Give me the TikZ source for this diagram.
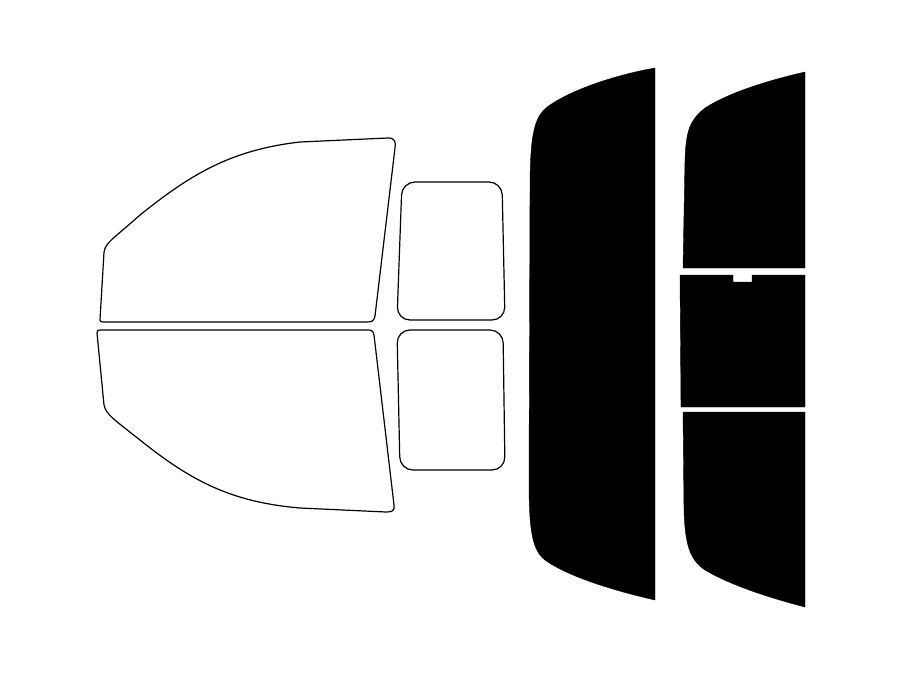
\documentclass[tikz,border=0pt]{standalone}
\begin{document}
\begin{tikzpicture}[x=1pt,y=-1pt,line join=round]
\tikzset{win/.style={draw=black,line width=1.2pt,fill=white},tint/.style={fill=black,draw=black}}
\useasboundingbox (0,0) rectangle (900,675);
% front door upper
\draw[win] (100,320) -- (104,252) .. controls (106,242) and (112,240) .. (140,215) .. controls (190,175) and (230,150) .. (300,142) -- (388,138) .. controls (395,138) and (396,142) .. (395,148) -- (375,316) .. controls (374,321) and (372,322) .. (367,322) -- (104,322) .. controls (100,322) and (100,321) .. (100,320);
% front door lower
\draw[win] (97,333) .. controls (97,330) and (98,330) .. (101,330) -- (368,330) .. controls (372,330) and (373,331) .. (374,335) -- (394,505) .. controls (395,511) and (392,512) .. (386,512) -- (300,508) .. controls (230,502) and (190,480) .. (140,440) .. controls (112,418) and (106,414) .. (104,405) -- (97,333);
% small windows
\draw[win,rounded corners=13pt] (450,182) -- (502,182) -- (505,320) -- (397,320) -- (402,182) -- (450,182);
\draw[win,rounded corners=13pt] (450,330) -- (503,330) -- (505,470) -- (400,470) -- (397,330) -- (450,330);
% back seat big black
\fill[tint] (655,68) -- (655,600) .. controls (620,592) and (570,578) .. (545,560) .. controls (532,550) and (529,530) .. (529,480) -- (530,190) .. controls (530,130) and (535,115) .. (550,105) .. controls (575,88) and (620,74) .. (655,68) -- cycle;
% rear top
\fill[tint] (805,72) -- (805,268) -- (683,268) -- (685,160) .. controls (686,130) and (690,120) .. (705,108) .. controls (730,92) and (770,80) .. (805,72) -- cycle;
% rear middle
\fill[tint] (680,275) -- (733,275) -- (733,282) -- (752,282) -- (752,275) -- (805,275) -- (805,407) -- (681,407) -- cycle;
% rear bottom
\fill[tint] (683,412) -- (805,412) -- (805,607) .. controls (770,598) and (730,585) .. (705,570) .. controls (690,560) and (685,545) .. (684,510) -- cycle;
\end{tikzpicture}
\end{document}
